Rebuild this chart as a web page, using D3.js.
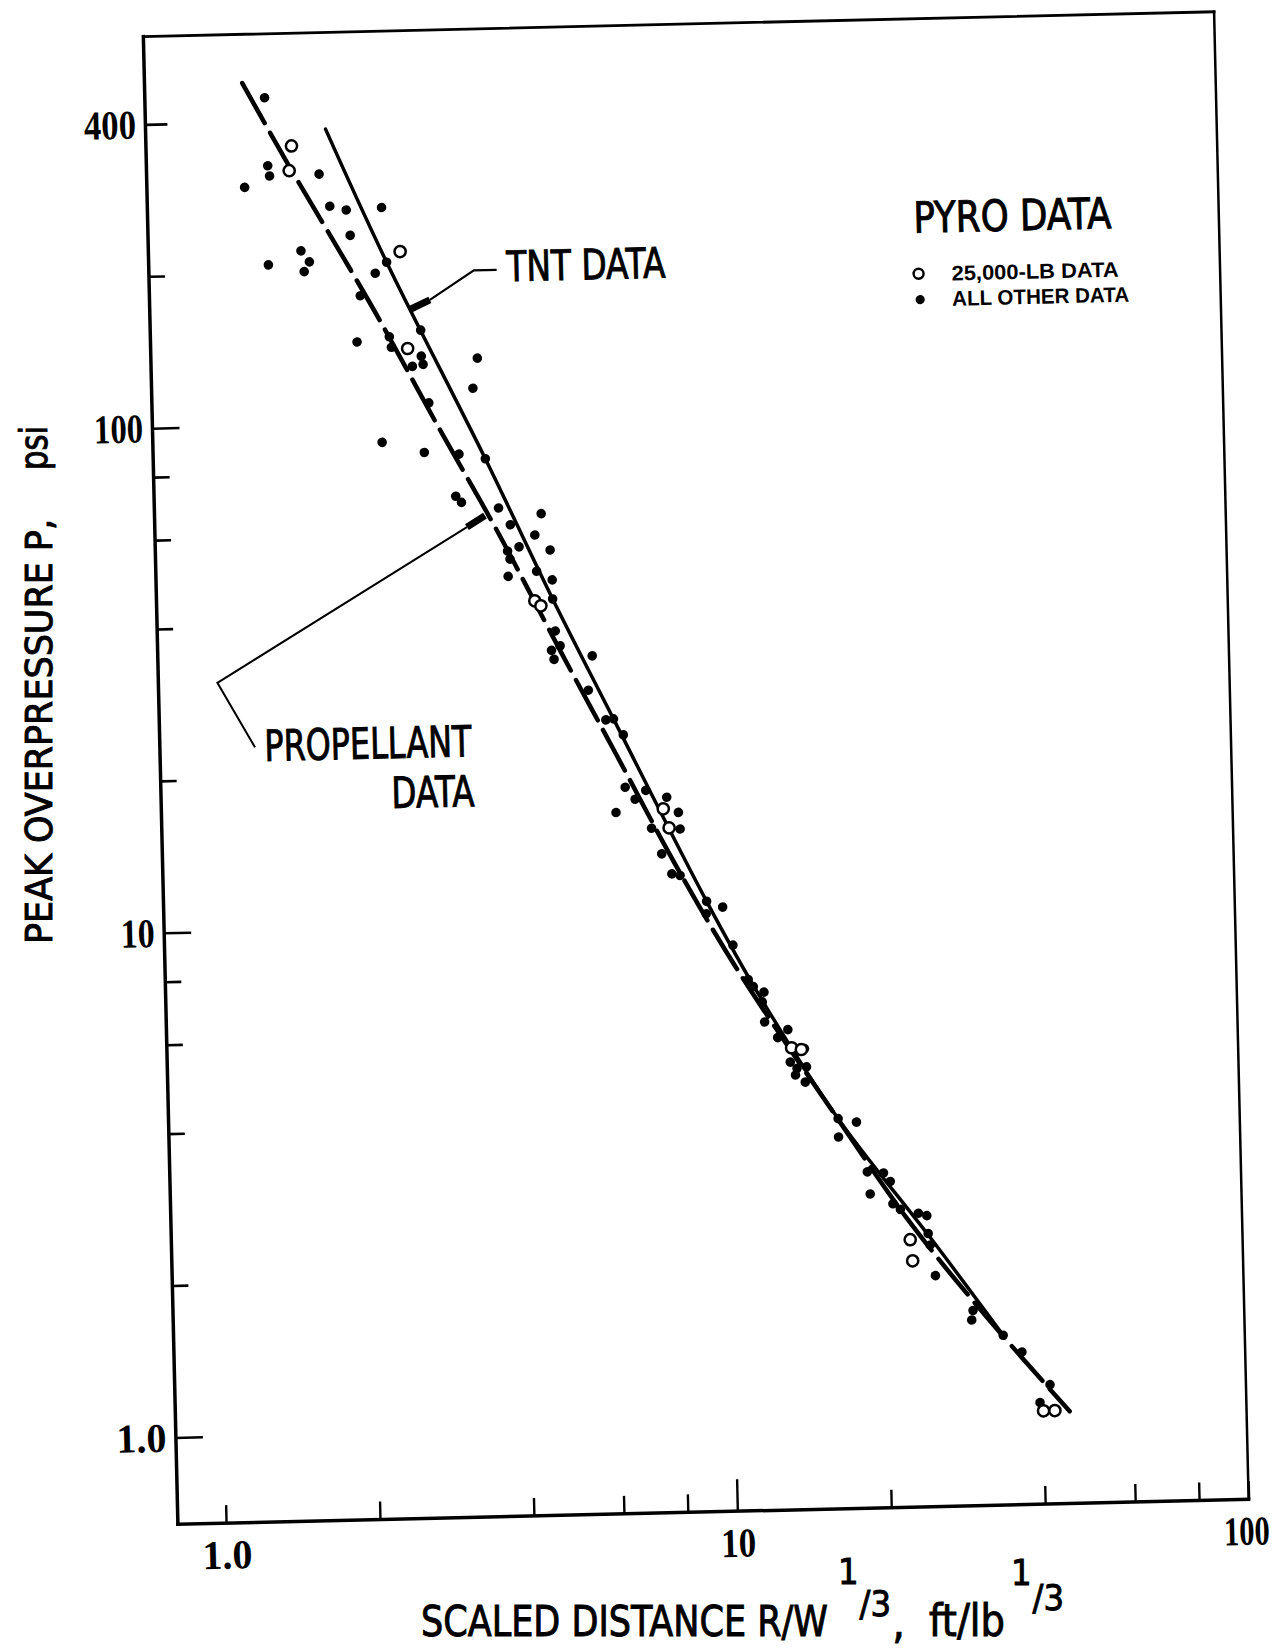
<!DOCTYPE html>
<html>
<head>
<meta charset="utf-8">
<script src="https://cdn.jsdelivr.net/npm/d3@7"></script>
<style>
  html, body { margin: 0; padding: 0; background: #fff; }
  svg { display: block; }
</style>
</head>
<body>
<svg id="chart" width="1287" height="1650"></svg>
<script>
// Pyrotechnic blast data: scaled distance R/W^1/3 (ft/lb^1/3) vs peak overpressure (psi)

// "All other data" shots: [scaled distance, overpressure]
const pyroOtherData = [
  [1.38, 446], [1.39, 327], [1.40, 312], [1.25, 297], [1.75, 313], [1.83, 270],
  [1.97, 265], [2.31, 267], [2.00, 236], [1.60, 221], [1.38, 208], [1.66, 210],
  [1.62, 201], [2.23, 198], [2.35, 208], [2.08, 179], [2.72, 152], [2.04, 145],
  [2.36, 148], [2.38, 141], [2.72, 135], [2.74, 130], [2.61, 129], [3.50, 133],
  [3.42, 116], [2.80, 109], [2.26, 91.5], [2.73, 87], [3.19, 86], [3.59, 84],
  [3.13, 71], [3.21, 69], [3.79, 67], [4.59, 65], [3.99, 62], [4.45, 59],
  [4.14, 56], [4.76, 55], [3.93, 55], [3.97, 53], [4.47, 50], [3.93, 49],
  [4.79, 48], [4.79, 44], [4.83, 38], [4.93, 35.5], [4.74, 34.8], [4.79, 33.4],
  [5.69, 33.8], [5.57, 28.9], [6.22, 25.3], [6.01, 25.2], [6.49, 23.5], [6.51, 18.5],
  [6.80, 17.5], [7.14, 18.2], [6.23, 16.5], [7.84, 17.6], [8.25, 16.4], [7.30, 15.3],
  [8.30, 15.2], [7.62, 13.6], [7.96, 12.4], [8.26, 12.3], [9.28, 10.9], [9.25, 10.3],
  [9.97, 10.6], [10.4, 8.9], [11.1, 7.6], [11.35, 7.35], [11.9, 7.16], [11.8, 6.85],
  [11.9, 6.25], [13.2, 6.02], [12.6, 5.81], [14.2, 5.51], [13.3, 5.19], [13.7, 5.04],
  [14.3, 5.07], [13.6, 4.89], [14.2, 4.73], [16.4, 3.99], [17.8, 3.92], [16.4, 3.67],
  [18.6, 3.12], [20.0, 3.10], [20.6, 2.98], [18.8, 2.82], [20.8, 2.69], [21.5, 2.62],
  [23.3, 2.57], [24.2, 2.54], [24.3, 2.34], [24.5, 2.22], [25.0, 1.93], [29.5, 1.64],
  [29.3, 1.57], [33.7, 1.46], [36.6, 1.35], [41.4, 1.16], [39.5, 1.07]
];

// 25,000-lb shots
const pyro25kData = [
  [1.55, 357], [1.53, 319], [2.50, 218], [2.56, 140], [4.42, 43.7], [4.54, 42.7],
  [7.71, 16.7], [7.90, 15.3], [13.4, 5.54], [14.0, 5.49], [22.4, 2.28], [22.6, 2.07],
  [40.1, 1.03], [42.2, 1.03]
];

// Reference curves
const tntCurve = [
  [1.81, 384], [2.35, 208], [3.59, 84], [4.79, 44], [6.22, 25.3], [9.28, 10.9],
  [11.7, 7.0], [16.4, 3.99], [24.5, 2.30], [33.7, 1.46]
];
const propellantCurve = [
  [1.25, 478], [1.52, 330], [2.0, 201], [2.27, 159], [2.94, 96], [3.75, 60.6],
  [4.96, 34.3], [6.29, 21.4], [8.14, 12.8], [10.55, 8.0], [16.05, 4.11],
  [22.4, 2.47], [31.5, 1.58], [45.1, 1.025]
];

// Leader lines for the curve callouts (data coordinates)
const tntLeader = [[3.853, 198.5], [3.477, 198.5], [2.844, 174.3]];
const tntLeaderTip = [[2.844, 174.3], [2.609, 167.6]];
const propLeader = [[3.281, 61.6], [1.050, 31.1], [1.235, 23.1]];
const propLeaderTip = [[3.563, 64.8], [3.281, 61.6]];

// Axis ticks
const xTickValues = [1, 2, 4, 6, 8, 10, 20, 40, 60, 80, 100];
const xTickLabels = { 1: "1.0", 10: "10", 100: "100" };
const yTickValues = [1, 2, 4, 6, 8, 10, 20, 40, 60, 80, 100, 200, 400];
const yTickLabels = { 1: "1.0", 10: "10", 100: "100", 400: "400" };

// ---- layout ----
const frame = { left: 160.5, right: 1231.5, top: 24, bottom: 1512 };
const tilt = -1.33, pivot = [696, 768];
const letterFont = "'Liberation Sans Narrow', 'DejaVu Sans Condensed', 'Liberation Sans', sans-serif";
const digitFont = "'Liberation Serif', 'DejaVu Serif', serif";

const svg = d3.select("#chart");
svg.append("rect").attr("width", 1287).attr("height", 1650).attr("fill", "#fff");

const x = d3.scaleLog().domain([0.805, 100]).range([frame.left, frame.right]);
const y = d3.scaleLog().domain([0.673, 597]).range([frame.bottom, frame.top]);

const g = svg.append("g").attr("transform", `rotate(${tilt},${pivot[0]},${pivot[1]})`);

// frame
const edge = (x1, y1, x2, y2, w) => g.append("line")
  .attr("x1", x1).attr("y1", y1).attr("x2", x2).attr("y2", y2)
  .attr("stroke", "#000").attr("stroke-width", w).attr("stroke-linecap", "square");
edge(frame.left, frame.top, frame.right, frame.top, 2.8);
edge(frame.right, frame.top, frame.right, frame.bottom, 2.5);
edge(frame.left, frame.bottom, frame.right, frame.bottom, 3.5);
edge(frame.left, frame.top, frame.left, frame.bottom, 3.5);

// y axis (ticks pointing inward)
const yLabelWidth = { 1: 50, 10: 34, 100: 49, 400: 52 };
const yAxisG = g.append("g")
  .attr("transform", `translate(${frame.left},0)`)
  .call(d3.axisLeft(y).tickValues(yTickValues)
    .tickFormat(d => yTickLabels[d] || "")
    .tickSizeInner(-16).tickSizeOuter(0).tickPadding(9.5));
yAxisG.select(".domain").remove();
yAxisG.selectAll(".tick line")
  .attr("x2", d => (d === 1 || d === 10 || d === 100) ? 27 : (d === 400 ? 22 : 16))
  .attr("stroke", "#000").attr("stroke-width", 2.6);
yAxisG.selectAll(".tick text")
  .attr("fill", "#000").style("font-family", digitFont).style("font-size", "41px").style("font-weight", "bold")
  .attr("dy", "0.33em")
  .each(function (d) {
    if (yLabelWidth[d]) d3.select(this).attr("textLength", yLabelWidth[d]).attr("lengthAdjust", "spacingAndGlyphs");
  });

// x axis (ticks pointing inward)
const xLabelWidth = { 1: 50, 10: 35, 100: 46 };
const xAxisG = g.append("g")
  .attr("transform", `translate(0,${frame.bottom})`)
  .call(d3.axisBottom(x).tickValues(xTickValues)
    .tickFormat(d => xTickLabels[d] || "")
    .tickSizeInner(-18).tickSizeOuter(0));
xAxisG.select(".domain").remove();
xAxisG.selectAll(".tick line")
  .attr("y2", d => d === 10 ? -32 : -18)
  .attr("stroke", "#000").attr("stroke-width", 2.4);
xAxisG.selectAll(".tick text")
  .attr("fill", "#000").style("font-family", digitFont).style("font-size", "41px").style("font-weight", "bold")
  .attr("y", 32).attr("dy", "0.33em")
  .attr("x", d => d === 100 ? -3 : 0)
  .each(function (d) {
    if (xLabelWidth[d]) d3.select(this).attr("textLength", xLabelWidth[d]).attr("lengthAdjust", "spacingAndGlyphs");
  });

// curves
const curveLine = d3.line().x(d => x(d[0])).y(d => y(d[1])).curve(d3.curveCatmullRom.alpha(0.5));
const straight = d3.line().x(d => x(d[0])).y(d => y(d[1]));

g.append("path").datum(tntCurve).attr("d", curveLine)
  .attr("fill", "none").attr("stroke", "#000").attr("stroke-width", 3.5).attr("stroke-linecap", "round");
g.append("path").datum(propellantCurve).attr("d", curveLine)
  .attr("fill", "none").attr("stroke", "#000").attr("stroke-width", 4.5)
  .attr("stroke-dasharray", "46,11").attr("stroke-linecap", "round");

// callout leaders
g.append("path").datum(tntLeader).attr("d", straight)
  .attr("fill", "none").attr("stroke", "#000").attr("stroke-width", 2.2);
g.append("path").datum(tntLeaderTip).attr("d", straight)
  .attr("fill", "none").attr("stroke", "#000").attr("stroke-width", 7);
g.append("path").datum(propLeader).attr("d", straight)
  .attr("fill", "none").attr("stroke", "#000").attr("stroke-width", 2);
g.append("path").datum(propLeaderTip).attr("d", straight)
  .attr("fill", "none").attr("stroke", "#000").attr("stroke-width", 7);

// data points
g.append("g").selectAll("circle").data(pyroOtherData).join("circle")
  .attr("cx", d => x(d[0])).attr("cy", d => y(d[1])).attr("r", 4.8).attr("fill", "#000");
g.append("g").selectAll("circle").data(pyro25kData).join("circle")
  .attr("cx", d => x(d[0])).attr("cy", d => y(d[1])).attr("r", 5.6)
  .attr("fill", "#fff").attr("stroke", "#000").attr("stroke-width", 2.5);

// callout text
const label = (txt, px, py, size, len, anchor = "start", font = letterFont, weight = "normal", heavy = 0.9) =>
  g.append("text").text(txt).attr("x", px).attr("y", py)
    .attr("text-anchor", anchor).attr("fill", "#000")
    .attr("stroke", "#000").attr("stroke-width", heavy)
    .style("font-family", font).style("font-size", size + "px").style("font-weight", weight)
    .attr("textLength", len).attr("lengthAdjust", "spacingAndGlyphs");

label("TNT DATA", 518, 277, 42, 159);
label("PROPELLANT", 265, 751, 43, 207);
label("DATA", 474, 801, 43, 83, "end");

// legend
label("PYRO DATA", 926, 238, 43, 198);
g.append("circle").attr("cx", 930).attr("cy", 279).attr("r", 5)
  .attr("fill", "#fff").attr("stroke", "#000").attr("stroke-width", 2.4);
label("25,000-LB DATA", 963, 286.5, 21, 167, "start", "'Liberation Sans', Arial, sans-serif", "bold", 0);
g.append("circle").attr("cx", 931).attr("cy", 305).attr("r", 4.6).attr("fill", "#000");
label("ALL OTHER DATA", 963, 311.8, 21, 177, "start", "'Liberation Sans', Arial, sans-serif", "bold", 0);

// axis titles
const title = svg.append("g").attr("fill", "#000").attr("stroke", "#000").attr("stroke-width", 0.9)
  .style("font-family", letterFont);
title.append("text").text("PEAK OVERPRESSURE P,")
  .attr("transform", "translate(52,944) rotate(-90)")
  .style("font-size", "37px").attr("textLength", 425).attr("lengthAdjust", "spacingAndGlyphs");
title.append("text").text("psi")
  .attr("transform", "translate(47,470) rotate(-90)")
  .style("font-size", "37px").attr("textLength", 44).attr("lengthAdjust", "spacingAndGlyphs");

title.append("text").text("SCALED DISTANCE R/W").attr("x", 421).attr("y", 1636)
  .style("font-size", "42px").attr("textLength", 407).attr("lengthAdjust", "spacingAndGlyphs");

// exponent "1/3" set as a raised 1 over a lowered /3, followed by the comma
const rExp = title.append("text").attr("x", 838).attr("y", 1584).style("font-size", "36px");
rExp.append("tspan").text("1");
rExp.append("tspan").attr("dx", 1).attr("dy", 32).text("/3");
rExp.append("tspan").attr("dx", 1).attr("dy", 22).style("font-size", "44px").text(",");

title.append("text").text("ft/lb").attr("x", 929).attr("y", 1636)
  .style("font-size", "44px").attr("textLength", 76).attr("lengthAdjust", "spacingAndGlyphs");
const fExp = title.append("text").attr("x", 1011).attr("y", 1585).style("font-size", "36px");
fExp.append("tspan").text("1");
fExp.append("tspan").attr("dx", 1).attr("dy", 25).text("/3");
</script>
</body>
</html>
